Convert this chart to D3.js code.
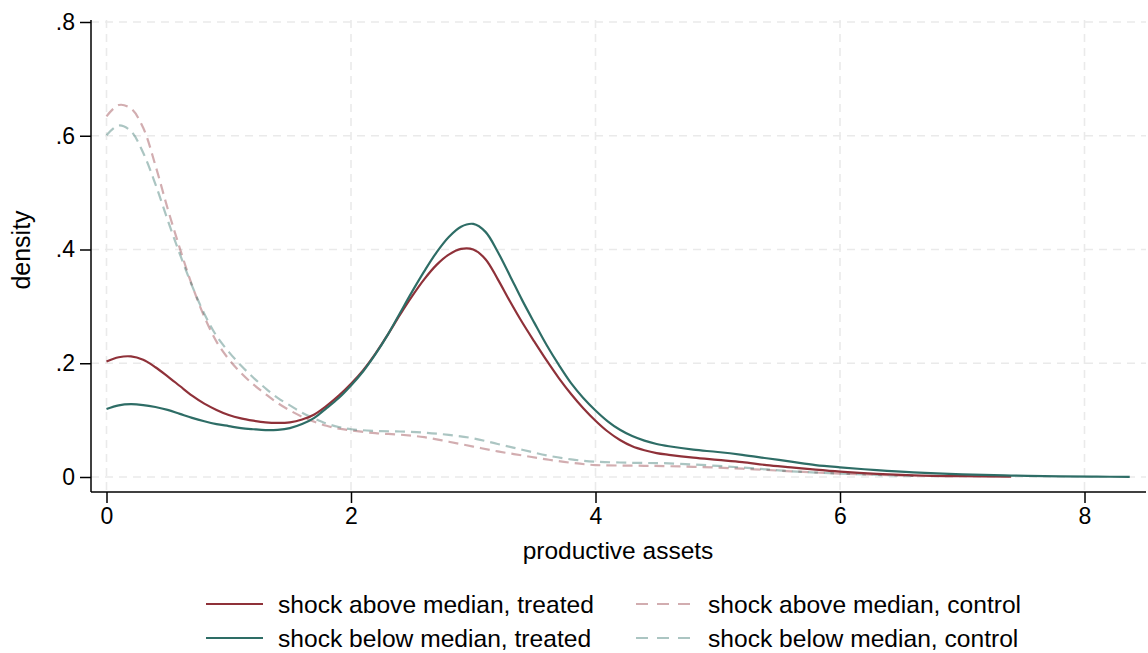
<!DOCTYPE html>
<html>
<head>
<meta charset="utf-8">
<script src="https://cdn.jsdelivr.net/npm/d3@7"></script>
<style>
  html, body { margin: 0; padding: 0; background: #ffffff; }
  svg { display: block; }
  text { font-family: "Liberation Sans", Arial, Helvetica, sans-serif; fill: #000; }
</style>
</head>
<body>
<svg id="chart" width="1148" height="653"></svg>
<script>
// Kernel density estimates of productive assets, by shock group and treatment arm
const xTicks = [0, 2, 4, 6, 8];
const yTicks = [0, 0.2, 0.4, 0.6, 0.8];
const yTickLabels = ["0", ".2", ".4", ".6", ".8"];
const xTitle = "productive assets";
const yTitle = "density";

const aboveTreatedX = [0, 0.1, 0.2, 0.3, 0.4, 0.5, 0.6, 0.7, 0.8, 0.9, 1.0, 1.1, 1.2, 1.3, 1.4, 1.5, 1.6, 1.7, 1.8, 1.9, 2.0, 2.1, 2.2, 2.3, 2.4, 2.5, 2.6, 2.7, 2.8, 2.9, 3.0, 3.1, 3.2, 3.3, 3.4, 3.5, 3.6, 3.7, 3.8, 3.9, 4.0, 4.1, 4.2, 4.3, 4.4, 4.5, 4.6, 4.8, 5.0, 5.2, 5.4, 5.6, 5.8, 6.0, 6.3, 6.6, 7.0, 7.4];
const aboveTreatedY = [0.203, 0.2105, 0.212, 0.206, 0.193, 0.177, 0.160, 0.143, 0.129, 0.118, 0.109, 0.103, 0.099, 0.096, 0.095, 0.096, 0.101, 0.110, 0.125, 0.143, 0.164, 0.188, 0.217, 0.250, 0.285, 0.318, 0.348, 0.373, 0.391, 0.401, 0.400, 0.383, 0.348, 0.309, 0.272, 0.238, 0.205, 0.174, 0.146, 0.121, 0.099, 0.080, 0.065, 0.054, 0.047, 0.042, 0.039, 0.034, 0.030, 0.026, 0.021, 0.017, 0.013, 0.0095, 0.0055, 0.003, 0.0015, 0.0008];

const belowTreatedX = [0, 0.1, 0.2, 0.3, 0.4, 0.5, 0.6, 0.7, 0.8, 0.9, 1.0, 1.1, 1.2, 1.3, 1.4, 1.5, 1.6, 1.7, 1.8, 1.9, 2.0, 2.1, 2.2, 2.3, 2.4, 2.5, 2.6, 2.7, 2.8, 2.9, 3.0, 3.1, 3.2, 3.3, 3.4, 3.5, 3.6, 3.7, 3.8, 3.9, 4.0, 4.1, 4.2, 4.3, 4.4, 4.5, 4.6, 4.8, 5.0, 5.2, 5.4, 5.6, 5.8, 6.0, 6.3, 6.6, 7.0, 7.4, 7.8, 8.1, 8.37];
const belowTreatedY = [0.1195, 0.126, 0.128, 0.1265, 0.123, 0.118, 0.111, 0.104, 0.098, 0.093, 0.0895, 0.086, 0.084, 0.0825, 0.083, 0.086, 0.093, 0.104, 0.121, 0.139, 0.161, 0.186, 0.216, 0.250, 0.288, 0.326, 0.362, 0.395, 0.422, 0.440, 0.445, 0.431, 0.396, 0.354, 0.311, 0.271, 0.232, 0.197, 0.165, 0.139, 0.117, 0.098, 0.083, 0.072, 0.064, 0.058, 0.054, 0.048, 0.044, 0.039, 0.033, 0.027, 0.021, 0.017, 0.012, 0.008, 0.0045, 0.0025, 0.0012, 0.0006, 0.0003];

const aboveControlX = [0, 0.1, 0.2, 0.3, 0.4, 0.5, 0.6, 0.7, 0.8, 0.9, 1.0, 1.1, 1.2, 1.3, 1.4, 1.5, 1.6, 1.7, 1.8, 1.9, 2.0, 2.2, 2.4, 2.6, 2.8, 3.0, 3.2, 3.4, 3.6, 3.8, 4.0, 4.3, 4.6, 5.0, 5.3, 5.6, 6.0, 6.3, 6.6];
const aboveControlY = [0.634, 0.654, 0.648, 0.614, 0.548, 0.472, 0.402, 0.337, 0.282, 0.238, 0.207, 0.183, 0.163, 0.146, 0.130, 0.117, 0.106, 0.097, 0.090, 0.085, 0.082, 0.077, 0.0745, 0.070, 0.062, 0.0535, 0.045, 0.038, 0.031, 0.025, 0.021, 0.020, 0.019, 0.0165, 0.0135, 0.010, 0.006, 0.0037, 0.002];

const belowControlX = [0, 0.1, 0.2, 0.3, 0.4, 0.5, 0.6, 0.7, 0.8, 0.9, 1.0, 1.1, 1.2, 1.3, 1.4, 1.5, 1.6, 1.7, 1.8, 1.9, 2.0, 2.2, 2.4, 2.6, 2.8, 3.0, 3.2, 3.4, 3.6, 3.8, 4.0, 4.3, 4.6, 5.0, 5.3, 5.6, 6.0, 6.3, 6.6];
const belowControlY = [0.601, 0.618, 0.608, 0.570, 0.515, 0.452, 0.392, 0.336, 0.287, 0.248, 0.220, 0.196, 0.175, 0.156, 0.139, 0.126, 0.113, 0.103, 0.094, 0.088, 0.084, 0.081, 0.080, 0.078, 0.074, 0.068, 0.058, 0.048, 0.038, 0.031, 0.027, 0.025, 0.024, 0.0195, 0.015, 0.010, 0.006, 0.0037, 0.002];

const seriesNames = [
  "shock above median, treated",
  "shock below median, treated",
  "shock above median, control",
  "shock below median, control"
];

const series = [
  { name: seriesNames[0], xs: aboveTreatedX, ys: aboveTreatedY, color: "#8f3139", opacity: 1, dash: null },
  { name: seriesNames[1], xs: belowTreatedX, ys: belowTreatedY, color: "#2e6d66", opacity: 1, dash: null },
  { name: seriesNames[2], xs: aboveControlX, ys: aboveControlY, color: "#8f3139", opacity: 0.4, dash: "10,6" },
  { name: seriesNames[3], xs: belowControlX, ys: belowControlY, color: "#2e6d66", opacity: 0.4, dash: "10,6" }
];

const svg = d3.select("#chart");

const x = d3.scaleLinear().domain([0, 8]).range([106.5, 1084.5]);
const y = d3.scaleLinear().domain([0, 0.8]).range([477, 22]);

const plotLeft = 91, plotRight = 1146, plotTop = 20, plotBottom = 492;

// grid lines
const grid = svg.append("g").attr("class", "grid");
grid.selectAll("line.gx").data(xTicks).join("line")
  .attr("x1", d => x(d)).attr("x2", d => x(d))
  .attr("y1", plotTop).attr("y2", plotBottom)
  .attr("stroke", "#eaeaea").attr("stroke-width", 1.6).attr("stroke-dasharray", "8,6");
grid.selectAll("line.gy").data(yTicks).join("line")
  .attr("x1", plotLeft).attr("x2", plotRight)
  .attr("y1", d => y(d)).attr("y2", d => y(d))
  .attr("stroke", "#eaeaea").attr("stroke-width", 1.6).attr("stroke-dasharray", "8,6");

// density curves
const line = d3.line()
  .x(d => x(d[0]))
  .y(d => y(d[1]))
  .curve(d3.curveCatmullRom.alpha(0.5));

const curves = svg.append("g").attr("class", "curves");
// controls beneath treated lines
[series[2], series[3], series[0], series[1]].forEach(s => {
  const pts = s.xs.map((v, i) => [v, s.ys[i]]);
  curves.append("path")
    .datum(pts)
    .attr("d", line)
    .attr("fill", "none")
    .attr("stroke", s.color)
    .attr("stroke-opacity", s.opacity)
    .attr("stroke-width", 2.2)
    .attr("stroke-dasharray", s.dash);
});

// axes
const xAxis = d3.axisBottom(x).tickValues(xTicks).tickSize(11).tickPadding(5).tickFormat(d3.format("d"));
const gx = svg.append("g").attr("transform", `translate(0,${plotBottom})`).call(xAxis);
gx.select(".domain").attr("d", `M${plotLeft},0H${plotRight}`).attr("stroke", "#000").attr("stroke-width", 1.5);
gx.selectAll(".tick line").attr("stroke", "#000").attr("stroke-width", 1.5);
gx.selectAll(".tick text").attr("font-size", 23).attr("font-family", "Liberation Sans, Arial, sans-serif");

const yAxis = d3.axisLeft(y).tickValues(yTicks).tickSize(11).tickPadding(5)
  .tickFormat((d, i) => yTickLabels[i]);
const gy = svg.append("g").attr("transform", `translate(${plotLeft},0)`).call(yAxis);
gy.select(".domain").attr("d", `M0,${plotTop}V${plotBottom}`).attr("stroke", "#000").attr("stroke-width", 1.5);
gy.selectAll(".tick line").attr("stroke", "#000").attr("stroke-width", 1.5);
gy.selectAll(".tick text").attr("font-size", 23).attr("font-family", "Liberation Sans, Arial, sans-serif");

// axis titles
svg.append("text")
  .attr("x", 618).attr("y", 559)
  .attr("text-anchor", "middle")
  .attr("font-size", 24.5)
  .text(xTitle);
svg.append("text")
  .attr("transform", "translate(30,250) rotate(-90)")
  .attr("text-anchor", "middle")
  .attr("font-size", 25)
  .text(yTitle);

// legend: two columns, treated left, control right
const legendCols = [206, 636];
const legendRows = [604, 638];
const legendOrder = [
  { s: series[0], col: 0, row: 0 },
  { s: series[2], col: 1, row: 0 },
  { s: series[1], col: 0, row: 1 },
  { s: series[3], col: 1, row: 1 }
];
const legend = svg.append("g").attr("class", "legend");
legendOrder.forEach(e => {
  const lx = legendCols[e.col], ly = legendRows[e.row];
  legend.append("line")
    .attr("x1", lx).attr("x2", lx + 57)
    .attr("y1", ly).attr("y2", ly)
    .attr("stroke", e.s.color)
    .attr("stroke-opacity", e.s.opacity)
    .attr("stroke-width", 2.2)
    .attr("stroke-dasharray", e.s.dash ? "12,9" : null);
  legend.append("text")
    .attr("x", lx + 72).attr("y", ly)
    .attr("dy", "0.35em")
    .attr("font-size", 24.6)
    .text(e.s.name);
});
</script>
</body>
</html>
